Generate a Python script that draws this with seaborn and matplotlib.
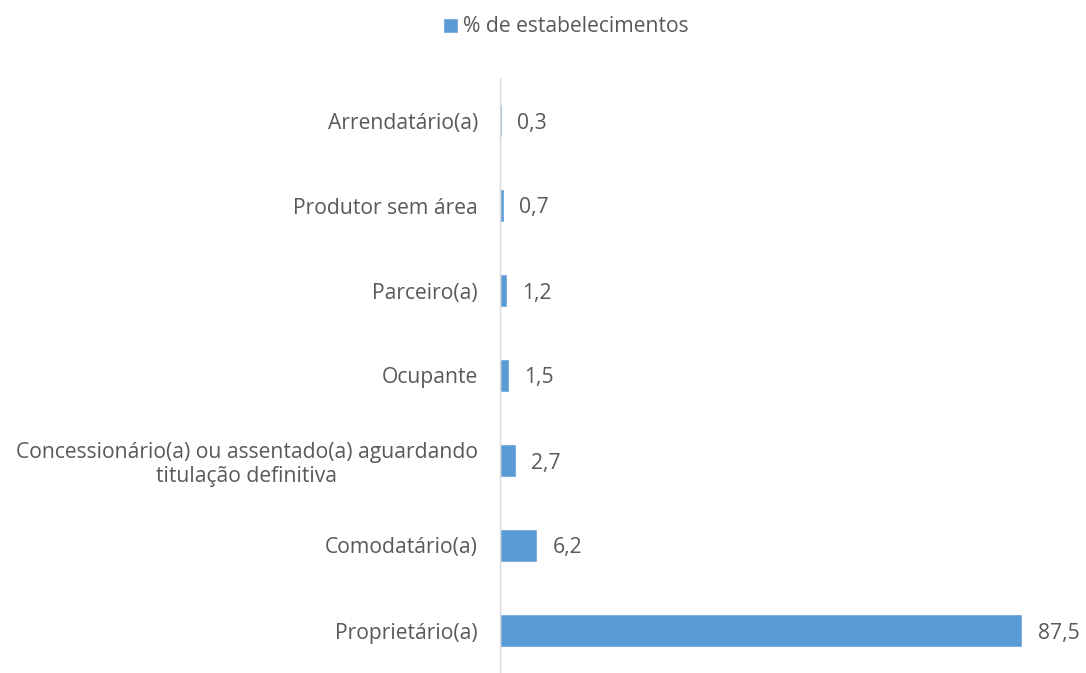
import pandas as pd
import matplotlib.pyplot as plt
import seaborn as sns
from matplotlib.patches import Patch

# -------------------------
# Data
# -------------------------
categorias = [
    'Arrendatário(a)',
    'Produtor sem área',
    'Parceiro(a)',
    'Ocupante',
    'Concessionário(a) ou assentado(a) aguardando\ntitulação definitiva',
    'Comodatário(a)',
    'Proprietário(a)',
]
percentuais = [0.3, 0.7, 1.2, 1.5, 2.7, 6.2, 87.5]
serie = '% de estabelecimentos'

df = pd.DataFrame({'Categoria': categorias, 'Valor': percentuais})

# -------------------------
# Style
# -------------------------
sns.set_style('white')
plt.rcParams['font.family'] = ['Open Sans', 'DejaVu Sans']
azul = '#5B9BD5'
cinza = '#595959'
fs = 15.2

fig = plt.figure(figsize=(10.86, 6.73), dpi=100)
ax = fig.add_axes([500 / 1086, 0.0, 585 / 1086, 595 / 673])

sns.barplot(data=df, x='Valor', y='Categoria', orient='h', color=azul,
            saturation=1, width=0.39, ax=ax)

ax.set_xlim(0, 98)
ax.set_ylim(6.5, -0.5)
ax.set_xlabel('')
ax.set_ylabel('')
ax.set_xticks([])
ax.tick_params(axis='y', length=0, pad=16, labelsize=fs, labelcolor=cinza)
for lbl in ax.get_yticklabels():
    lbl.set_horizontalalignment('right')
    lbl.set_multialignment('center')

for s in ['top', 'right', 'bottom']:
    ax.spines[s].set_visible(False)
ax.spines['left'].set_color('#D9D9D9')
ax.spines['left'].set_linewidth(1)

# value labels with comma decimal
for i, v in enumerate(percentuais):
    ax.annotate(f'{v:.1f}'.replace('.', ','), xy=(v, i), xytext=(11, 0),
                textcoords='offset points', va='center_baseline', ha='left',
                fontsize=fs, color=cinza)

fig.legend(handles=[Patch(facecolor=azul, label=serie)], loc='center',
           bbox_to_anchor=(566 / 1086, 1 - 27 / 673), frameon=False,
           fontsize=fs, labelcolor=cinza, handlelength=0.7, handleheight=0.7,
           handletextpad=0.25)

fig.savefig('out.png', dpi=100)
